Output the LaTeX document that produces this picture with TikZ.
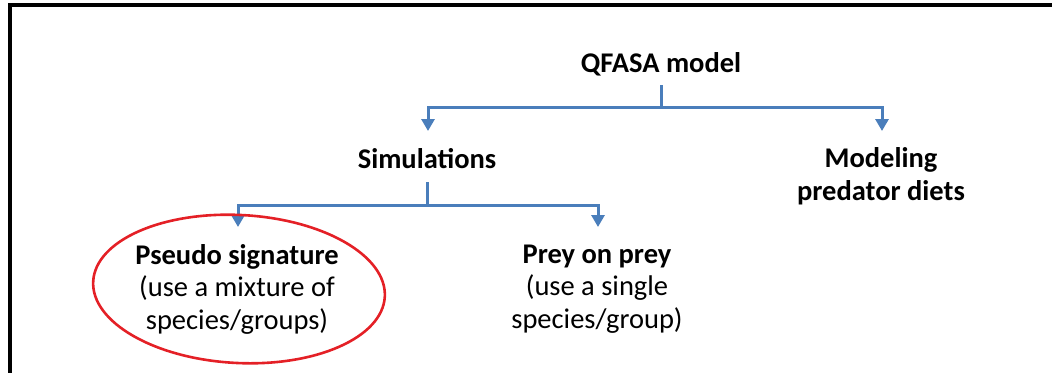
\documentclass[tikz,border=0pt]{standalone}
\usepackage{fontspec}
\setmainfont{Carlito}
\usetikzlibrary{arrows.meta}
\definecolor{linkblue}{HTML}{4A7EBB}
\definecolor{markred}{HTML}{E42026}

\begin{document}
\begin{tikzpicture}[x=1pt,y=-1pt,
  txt/.style={font=\fontsize{28.5}{32.5}\selectfont, align=center, inner sep=0pt},
  head/.style={txt, font=\fontsize{28.5}{32.5}\selectfont\bfseries},
  link/.style={draw=linkblue, line width=3pt},
  flow/.style={link, -{Triangle[width=13pt,length=12pt]}},
  frame/.style={draw=black, line width=3.2pt},
  ring/.style={draw=markred, line width=2.6pt},
]
\useasboundingbox (0,0) rectangle (1052,373);

% partial frame: top and left edges
\draw[frame] (1052,5) -- (10,5) -- (10,373);

% labels
\node[head, anchor=base] (qfasa) at (661,72) {QFASA model};
\node[head, anchor=base] (sim) at (427,168) {Simulations};
\node[txt] (model) at (881,176) {\textbf{Modeling}\\\textbf{predator diets}};
\node[txt] (pseudo) at (237,289) {\textbf{Pseudo signature}\\(use a mixture of\\species/groups)};
\node[txt] (prey) at (597,289) {\textbf{Prey on prey}\\(use a single\\species/group)};

% connector points
\coordinate (qout) at (661,85);
\coordinate (qjoin) at (661,107);
\coordinate (simin) at (428,131);
\coordinate (modin) at (882,131);
\coordinate (sout) at (427,182);
\coordinate (sjoin) at (427,205);
\coordinate (pseudoin) at (238,227);
\coordinate (preyin) at (598,227);

% top level
\draw[link] (qout) -- (qjoin);
\draw[flow] (qjoin) -| (simin);
\draw[flow] (qjoin) -| (modin);

% simulation level
\draw[link] (sout) -- (sjoin);
\draw[flow] (sjoin) -| (pseudoin);
\draw[flow] (sjoin) -| (preyin);

% highlight ring
\draw[ring, rotate around={-3:(239,289)}] (239,289) ellipse (146 and 74);
\end{tikzpicture}
\end{document}
